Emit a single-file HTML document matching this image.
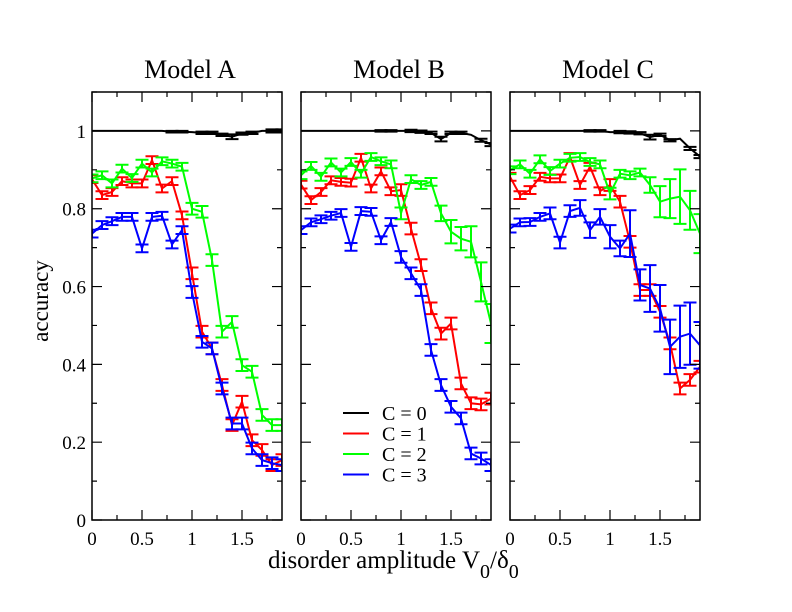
<!DOCTYPE html>
<html><head><meta charset="utf-8"><style>
html,body{margin:0;padding:0;background:#fff;}
svg{display:block;font-family:"Liberation Serif",serif;}
</style></head><body>
<svg id="chart" width="792" height="612" viewBox="0 0 792 612"></svg>
<script>
const xs = [0,0.1,0.2,0.3,0.4,0.5,0.6,0.7,0.8,0.9,1.0,1.1,1.2,1.3,1.4,1.5,1.6,1.7,1.8,1.9];
const panelTitles = ["Model A","Model B","Model C"];
const seriesNames = ["C = 0","C = 1","C = 2","C = 3"];
const xTicks = [0,0.5,1,1.5];
const xTickLabels = ["0","0.5","1","1.5"];
const yTicks = [0,0.2,0.4,0.6,0.8,1];
const yTickLabels = ["0","0.2","0.4","0.6","0.8","1"];

const A_c0 = [1,1,1,1,1,1,1,1,0.998,0.998,0.997,0.995,0.995,0.99,0.985,0.993,0.995,1,1,1];
const A_c1 = [0.876,0.835,0.843,0.871,0.865,0.865,0.925,0.852,0.871,0.783,0.634,0.484,0.441,0.347,0.244,0.304,0.205,0.18,0.141,0.154];
const A_c2 = [0.878,0.886,0.865,0.903,0.879,0.916,0.893,0.922,0.916,0.908,0.80,0.792,0.668,0.484,0.509,0.398,0.381,0.27,0.244,0.244];
const A_c3 = [0.736,0.758,0.768,0.779,0.779,0.698,0.779,0.782,0.708,0.745,0.586,0.458,0.441,0.338,0.248,0.248,0.184,0.154,0.146,0.141];

const B_c0 = [1,1,1,1,1,1,1,1,1,1,1,1,0.998,0.995,0.979,0.995,0.995,0.99,0.976,0.965];
const B_c1 = [0.862,0.822,0.843,0.873,0.869,0.867,0.931,0.852,0.896,0.845,0.848,0.749,0.655,0.544,0.479,0.505,0.351,0.30,0.297,0.312];
const B_c2 = [0.886,0.91,0.882,0.919,0.893,0.920,0.89,0.933,0.922,0.914,0.788,0.876,0.861,0.869,0.788,0.741,0.723,0.715,0.612,0.505];
const B_c3 = [0.745,0.765,0.773,0.782,0.789,0.702,0.794,0.792,0.719,0.766,0.676,0.634,0.591,0.437,0.347,0.291,0.261,0.171,0.158,0.141];

const C_c0 = [1,1,1,1,1,1,1,1,1,1,0.997,0.997,0.996,0.994,0.984,0.99,0.976,0.98,0.955,0.934];
const C_c1 = [0.882,0.835,0.848,0.882,0.878,0.878,0.933,0.861,0.908,0.845,0.861,0.818,0.715,0.591,0.591,0.535,0.454,0.338,0.36,0.394];
const C_c2 = [0.899,0.914,0.89,0.927,0.897,0.916,0.931,0.933,0.920,0.914,0.839,0.89,0.886,0.893,0.861,0.818,0.826,0.831,0.796,0.736];
const C_c3 = [0.749,0.765,0.766,0.779,0.788,0.713,0.794,0.802,0.745,0.779,0.728,0.698,0.736,0.604,0.595,0.544,0.445,0.471,0.479,0.449];

const errBlack = [0,0,0,0,0,0,0,0,0.002,0.002,0,0.003,0.003,0.003,0.006,0.003,0.003,0,0.004,0.004];
const errA = [0.01,0.01,0.01,0.01,0.01,0.01,0.01,0.01,0.01,0.01,0.015,0.015,0.015,0.015,0.015,0.015,0.015,0.015,0.015,0.015];
const errB2 = [0.01,0.01,0.01,0.01,0.01,0.01,0.01,0.01,0.01,0.01,0.015,0.01,0.01,0.01,0.02,0.03,0.03,0.04,0.05,0.05];
const errC2 = [0.01,0.01,0.01,0.01,0.01,0.01,0.01,0.01,0.01,0.01,0.015,0.01,0.01,0.01,0.02,0.04,0.05,0.07,0.05,0.05];
const errC3 = [0.01,0.01,0.01,0.01,0.015,0.015,0.015,0.02,0.02,0.02,0.03,0.02,0.06,0.04,0.06,0.06,0.07,0.08,0.08,0.06];

const colors = ["#000000","#ff0000","#00ff00","#0000ff"];
const panels = [
  {left:92, series:[A_c0,A_c1,A_c2,A_c3], errs:[errBlack,errA,errA,errA]},
  {left:301, series:[B_c0,B_c1,B_c2,B_c3], errs:[errBlack,errA,errB2,errA]},
  {left:510, series:[C_c0,C_c1,C_c2,C_c3], errs:[errBlack,errA,errC2,errC3]}
];
const PW=190, TOP=92, BOT=520, XMAX=1.9, YMAX=1.1;
const NS="http://www.w3.org/2000/svg";
const svg=document.getElementById('chart');
function mk(tag,attrs,parent){const e=document.createElementNS(NS,tag);for(const k in attrs)e.setAttribute(k,attrs[k]);(parent||svg).appendChild(e);return e;}
function yScale(v){return BOT-(v/YMAX)*(BOT-TOP);}

panels.forEach((p,pi)=>{
  const xScale=v=>p.left+(v/XMAX)*PW;
  const g=mk('g',{});
  
  
  const clipId='clip'+pi;
  const cp=mk('clipPath',{id:clipId},g);mk('rect',{x:p.left,y:TOP,width:PW,height:BOT-TOP},cp);
  p.series.forEach((s,si)=>{
    const sg=mk('g',{'clip-path':'url(#'+clipId+')'},g);
    
    
    const pts=s.map((v,i)=>xScale(xs[i]).toFixed(1)+','+yScale(v).toFixed(1)).join(' ');
    const pl=mk('polyline',{points:pts,fill:'none',stroke:colors[si],'stroke-width':2},sg);
    
    
    s.forEach((v,i)=>{
      const e=p.errs[si][i];
      if(e<=0) return;
      const x=xScale(xs[i]);const y1=yScale(v+e),y2=yScale(v-e);
      const eb=mk('path',{d:`M${x},${y1}V${y2}M${x-6.5},${y1}H${x+6.5}M${x-6.5},${y2}H${x+6.5}`,stroke:colors[si],'stroke-width':2,fill:'none'},sg);
      
      
    });
  });
  const fr=mk('rect',{x:p.left,y:TOP,width:PW,height:BOT-TOP,fill:'none',stroke:'#000','stroke-width':1.5},g);
  
  
  let d='';
  for(let v=0;v<=XMAX+1e-9;v+=0.25){const x=xScale(v);const L=(Math.abs(v*2-Math.round(v*2))<1e-9)?10:5;d+=`M${x},${BOT}V${BOT-L}M${x},${TOP}V${TOP+L}`;}
  for(let k=0;k<=11;k++){const v=k*0.1;const y=yScale(v);const L=(k%2===0)?10:5;d+=`M${p.left},${y}H${p.left+L}M${p.left+PW},${y}H${p.left+PW-L}`;}
  const tk=mk('path',{d:d,stroke:'#000','stroke-width':1.2,fill:'none'},g);
  
  
  xTicks.forEach((v,i)=>{
    const t=mk('text',{x:xScale(v),y:545,'text-anchor':'middle','font-size':19},g);t.textContent=xTickLabels[i];
    
    
  });
  if(pi===0){yTicks.forEach((v,i)=>{
    const t=mk('text',{x:p.left-6,y:yScale(v)+7,'text-anchor':'end','font-size':19},g);t.textContent=yTickLabels[i];
    
    
  });}
  const tt=mk('text',{x:p.left+PW/2+3,y:78,'text-anchor':'middle','font-size':26},g);tt.textContent=panelTitles[pi];
  
  
});
const lg=mk('g',{});


seriesNames.forEach((n,i)=>{
  const y=413+i*20.5;
  const ln=mk('line',{x1:343,x2:369,y1:y,y2:y,stroke:colors[i],'stroke-width':2},lg);
  
  
  const t=mk('text',{x:382,y:y+7,'font-size':20},lg);t.textContent=n;
  
  
});
const yt=mk('text',{x:0,y:0,transform:'translate(48,301) rotate(-90)','text-anchor':'middle','font-size':23});
yt.textContent='accuracy';


const xt=mk('text',{x:268,y:568,'font-size':25});


xt.innerHTML='disorder amplitude V<tspan dy="10" font-size="20">0</tspan><tspan dy="-10">/δ</tspan><tspan dy="10" font-size="20">0</tspan>';
</script>
</body></html>
